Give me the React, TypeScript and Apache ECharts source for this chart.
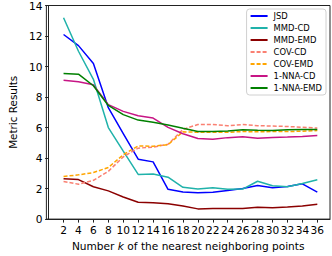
import React, { useEffect, useRef } from "react";
import * as echarts from "echarts";

const kValues = [2, 4, 6, 8, 10, 12, 14, 16, 18, 20, 22, 24, 26, 28, 30, 32, 34, 36];
const jsd = [12.1, 11.37, 10.2, 7.3, 5.6, 3.93, 3.75, 1.95, 1.77, 1.72, 1.76, 1.87, 2.0, 2.2, 2.06, 2.14, 2.31, 1.77];
const mmdCd = [13.2, 11.0, 9.16, 6.0, 4.45, 2.93, 2.95, 2.75, 2.08, 1.98, 2.05, 1.95, 1.97, 2.48, 2.19, 2.12, 2.33, 2.58];
const mmdEmd = [2.65, 2.59, 2.12, 1.85, 1.45, 1.1, 1.07, 1.0, 0.86, 0.67, 0.69, 0.7, 0.69, 0.78, 0.75, 0.8, 0.86, 0.97];
const covCd = [2.46, 2.29, 2.54, 3.13, 4.08, 4.65, 4.72, 4.9, 5.88, 6.2, 6.2, 6.12, 6.2, 6.12, 6.1, 6.07, 6.02, 5.97];
const covEmd = [2.79, 2.9, 3.05, 3.38, 4.22, 4.79, 4.78, 4.88, 5.72, 5.69, 5.69, 5.69, 5.74, 5.72, 5.74, 5.74, 5.76, 5.8];
const nnaCd = [9.1, 9.0, 8.8, 7.5, 7.06, 6.78, 6.62, 6.01, 5.59, 5.28, 5.23, 5.34, 5.4, 5.3, 5.35, 5.38, 5.42, 5.48];
const nnaEmd = [9.54, 9.5, 8.74, 7.45, 6.85, 6.49, 6.35, 6.17, 5.95, 5.74, 5.74, 5.78, 5.85, 5.82, 5.8, 5.85, 5.88, 5.88];

const seriesDefs = [
  { name: "JSD", data: jsd, color: "#0000ff", dashed: false },
  { name: "MMD-CD", data: mmdCd, color: "#20b2aa", dashed: false },
  { name: "MMD-EMD", data: mmdEmd, color: "#8b0000", dashed: false },
  { name: "COV-CD", data: covCd, color: "#fa8072", dashed: true },
  { name: "COV-EMD", data: covEmd, color: "#ffa500", dashed: true },
  { name: "1-NNA-CD", data: nnaCd, color: "#c71585", dashed: false },
  { name: "1-NNA-EMD", data: nnaEmd, color: "#008000", dashed: false },
];

const FONT = "DejaVu Sans";

export default function App() {
  const ref = useRef<HTMLDivElement>(null);
  useEffect(() => {
    document.body.style.margin = "0";
    if (!ref.current) return;
    const chart = echarts.init(ref.current, undefined, { renderer: "svg" });
    chart.setOption({
      animation: false,
      textStyle: { fontFamily: FONT },
      grid: {
        left: 32,
        top: 5,
        right: 2,
        bottom: 29,
        show: true,
        borderColor: "#222",
        borderWidth: 1,
        containLabel: false,
      },
      legend: {
        orient: "vertical",
        right: 6,
        top: 9,
        padding: [3, 4, 3, 3],
        itemWidth: 17,
        itemHeight: 8,
        itemGap: 4,
        borderColor: "#d0d0d0",
        borderWidth: 1,
        borderRadius: 3,
        backgroundColor: "rgba(255,255,255,0.8)",
        itemStyle: { opacity: 0 },
        textStyle: { fontFamily: FONT, fontSize: 8.4, color: "#000", padding: [0, 0, 0, 1] },
        data: seriesDefs.map((s) => s.name),
      },
      xAxis: {
        type: "value",
        min: -0.3,
        max: 37.7,
        name: "Number {i|k} of the nearest neighboring points",
        nameLocation: "middle",
        nameGap: 14,
        nameTextStyle: {
          fontFamily: FONT,
          fontSize: 10.6,
          color: "#000",
          rich: { i: { fontStyle: "italic", fontFamily: FONT, fontSize: 10.6, color: "#000" } },
        },
        axisLine: { show: true, lineStyle: { color: "#222" } },
        axisTick: { show: true, length: 3.5, lineStyle: { color: "#222" }, customValues: kValues },
        axisLabel: { fontFamily: FONT, fontSize: 10.6, color: "#000", margin: 5, customValues: kValues },
        splitLine: { show: false },
      },
      yAxis: {
        type: "value",
        min: 0,
        max: 14,
        interval: 2,
        name: "Metric Results",
        nameLocation: "middle",
        nameGap: 22,
        nameTextStyle: { fontFamily: FONT, fontSize: 10.4, color: "#000" },
        axisLine: { show: true, lineStyle: { color: "#222" } },
        axisTick: { show: true, length: 3.5, lineStyle: { color: "#222" } },
        axisLabel: { fontFamily: FONT, fontSize: 10.6, color: "#000", margin: 4 },
        splitLine: { show: false },
      },
      series: seriesDefs.map((s) => ({
        name: s.name,
        type: "line",
        symbol: "none",
        showSymbol: false,
        data: kValues.map((k, i) => [k, s.data[i]]),
        color: s.color,
        lineStyle: { color: s.color, width: 1.5, type: s.dashed ? [4, 2] : "solid" },
        itemStyle: { color: s.color },
      })),
    });
    return () => chart.dispose();
  }, []);
  return <div ref={ref} style={{ width: 332, height: 256 }} />;
}
